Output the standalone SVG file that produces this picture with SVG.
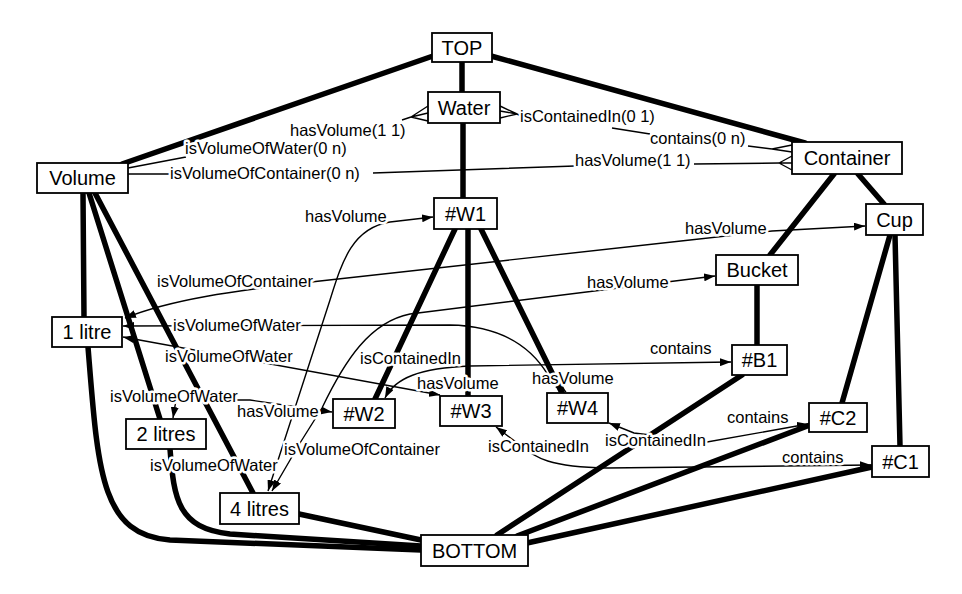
<svg xmlns="http://www.w3.org/2000/svg" width="962" height="594" viewBox="0 0 962 594">
<defs>
<marker id="arr" viewBox="0 0 11 8" refX="11" refY="4" markerWidth="11" markerHeight="8" markerUnits="userSpaceOnUse" orient="auto-start-reverse"><path d="M0,0 L11,4 L0,8 z" fill="#000"/></marker>
</defs>
<style>
.thick{fill:none;stroke:#000;stroke-width:5.5;stroke-linecap:round}
.thin{fill:none;stroke:#000;stroke-width:1.4}
.arrow{marker-start:url(#arr);marker-end:url(#arr)}
.box{fill:#fff;stroke:#000;stroke-width:1.8}
.nt{font-family:"Liberation Sans",Arial,sans-serif;font-size:20px;text-anchor:middle;fill:#000}
.lb{font-family:"Liberation Sans",Arial,sans-serif;font-size:16.5px;fill:#000;stroke:#fff;stroke-width:5;paint-order:stroke;stroke-linejoin:round}
</style>
<rect width="962" height="594" fill="#fff"/>
<g id="connectors">
  <!-- subsumption (thick) -->
  <path class="thick" d="M433 56 L122 164"/>
  <path class="thick" d="M462 62 L462 92"/>
  <path class="thick" d="M491 56 L805 143"/>
  <path class="thick" d="M463 123 L463 198"/>
  <path class="thick" d="M834 174 L770 255"/>
  <path class="thick" d="M858 174 L884 204"/>
  <path class="thick" d="M757 285 L757 345"/>
  <path class="thick" d="M890 235 L842 403"/>
  <path class="thick" d="M895 235 L900 446"/>
  <path class="thick" d="M83 193 L84 317"/>
  <path class="thick" d="M89 193 L160 419"/>
  <path class="thick" d="M95 193 L253 493"/>
  <path class="thick" d="M88 347 C98 470 100 535 170 540 L421 550"/>
  <path class="thick" d="M170 449 C174 500 178 528 230 534 L421 546"/>
  <path class="thick" d="M299 514 L421 540"/>
  <path class="thick" d="M455 229 L375 399"/>
  <path class="thick" d="M468 229 L468 396"/>
  <path class="thick" d="M481 229 L562 393"/>
  <path class="thick" d="M742 375 L497 535"/>
  <path class="thick" d="M810 425 L517 536"/>
  <path class="thick" d="M872 467 L527 543"/>
  <!-- schema relations with crow's feet -->
  <path class="thin" d="M128 168 L186 157 M402 120 L411 117"/>
  <path class="thin" d="M411 117 L428 106 M411 117 L428 113 M411 117 L428 121"/>
  <path class="thin" d="M128 174 L170 174 M373 173 L575 166 M694 164 L779 163"/>
  <path class="thin" d="M779 163 L792 156 M779 163 L792 163 M779 163 L792 170"/>
  <path class="thin" d="M517 114 L521 116 M612 128 L650 134 M748 146 L772 149"/>
  <path class="thin" d="M517 114 L500 106 M517 114 L500 111 M517 114 L500 118"/>
  <path class="thin" d="M772 149 L792 145 M772 149 L792 152"/>
  <!-- instance relations with arrows -->
  <path class="thin arrow" d="M268 491 L330 300 C342 262 352 228 390 222 L433 217"/>
  <path class="thin arrow" d="M272 491 L300 443 L322 408 C345 360 370 322 410 314 L715 276"/>
  <path class="thin arrow" d="M125 318 C170 300 230 291 320 281 L690 240 L772 231 L865 226"/>
  <path class="thin arrow" d="M123 326 L450 325 C500 326 530 345 548 375 L566 392"/>
  <path class="thin arrow" d="M123 337 L440 395"/>
  <path class="thin arrow" d="M332 412 L250 400 L176 400 L173 418"/>
  <path class="thin arrow" d="M385 398 C395 378 420 368 470 366 L731 362"/>
  <path class="thin arrow" d="M496 427 L520 445 C535 458 550 467 607 468 L871 465"/>
  <path class="thin arrow" d="M609 423 L634 433 L707 442 L808 424"/>
  <!-- labels -->
  <text class="lb" x="290" y="136">hasVolume(1 1)</text>
  <text class="lb" x="185" y="154">isVolumeOfWater(0 n)</text>
  <text class="lb" x="170" y="179">isVolumeOfContainer(0 n)</text>
  <text class="lb" x="520" y="122">isContainedIn(0 1)</text>
  <text class="lb" x="650" y="144">contains(0 n)</text>
  <text class="lb" x="575" y="166">hasVolume(1 1)</text>
  <text class="lb" x="305" y="222">hasVolume</text>
  <text class="lb" x="685" y="234">hasVolume</text>
  <text class="lb" x="157" y="287">isVolumeOfContainer</text>
  <text class="lb" x="587" y="288">hasVolume</text>
  <text class="lb" x="173" y="331">isVolumeOfWater</text>
  <text class="lb" x="165" y="362">isVolumeOfWater</text>
  <text class="lb" x="360" y="364">isContainedIn</text>
  <text class="lb" x="650" y="354">contains</text>
  <text class="lb" x="417" y="389">hasVolume</text>
  <text class="lb" x="532" y="384">hasVolume</text>
  <text class="lb" x="110" y="402">isVolumeOfWater</text>
  <text class="lb" x="237" y="417">hasVolume</text>
  <text class="lb" x="284" y="455">isVolumeOfContainer</text>
  <text class="lb" x="150" y="471">isVolumeOfWater</text>
  <text class="lb" x="488" y="452">isContainedIn</text>
  <text class="lb" x="605" y="446">isContainedIn</text>
  <text class="lb" x="727" y="423">contains</text>
  <text class="lb" x="782" y="463">contains</text>
</g>
<g id="node-TOP"><rect class="box" x="432" y="33" width="60" height="29"/><text class="nt" x="462" y="55">TOP</text></g>
<g id="node-Water"><rect class="box" x="428" y="92" width="72" height="31"/><text class="nt" x="464" y="115">Water</text></g>
<g id="node-W1"><rect class="box" x="434" y="198" width="63" height="31"/><text class="nt" x="465.5" y="221">#W1</text></g>
<g id="node-Volume"><rect class="box" x="37" y="163" width="91" height="30"/><text class="nt" x="82.5" y="185">Volume</text></g>
<g id="node-Container"><rect class="box" x="792" y="142" width="110" height="32"/><text class="nt" x="847" y="165">Container</text></g>
<g id="node-Cup"><rect class="box" x="866" y="204" width="57" height="31"/><text class="nt" x="894.5" y="227">Cup</text></g>
<g id="node-Bucket"><rect class="box" x="716" y="255" width="82" height="30"/><text class="nt" x="757" y="277">Bucket</text></g>
<g id="node-B1"><rect class="box" x="732" y="345" width="55" height="30"/><text class="nt" x="759.5" y="367">#B1</text></g>
<g id="node-C2"><rect class="box" x="809" y="403" width="58" height="29"/><text class="nt" x="838" y="425">#C2</text></g>
<g id="node-C1"><rect class="box" x="872" y="446" width="57" height="31"/><text class="nt" x="900.5" y="469">#C1</text></g>
<g id="node-1litre"><rect class="box" x="52" y="317" width="70" height="30"/><text class="nt" x="87" y="339">1 litre</text></g>
<g id="node-2litres"><rect class="box" x="126" y="419" width="80" height="30"/><text class="nt" x="166" y="441">2 litres</text></g>
<g id="node-4litres"><rect class="box" x="220" y="493" width="79" height="31"/><text class="nt" x="259.5" y="516">4 litres</text></g>
<g id="node-W2"><rect class="box" x="333" y="399" width="62" height="29"/><text class="nt" x="364" y="421">#W2</text></g>
<g id="node-W3"><rect class="box" x="440" y="396" width="62" height="30"/><text class="nt" x="471" y="418">#W3</text></g>
<g id="node-W4"><rect class="box" x="547" y="393" width="61" height="30"/><text class="nt" x="577.5" y="415">#W4</text></g>
<g id="node-BOTTOM"><rect class="box" x="421" y="535" width="107" height="31"/><text class="nt" x="474.5" y="558">BOTTOM</text></g>
</svg>
